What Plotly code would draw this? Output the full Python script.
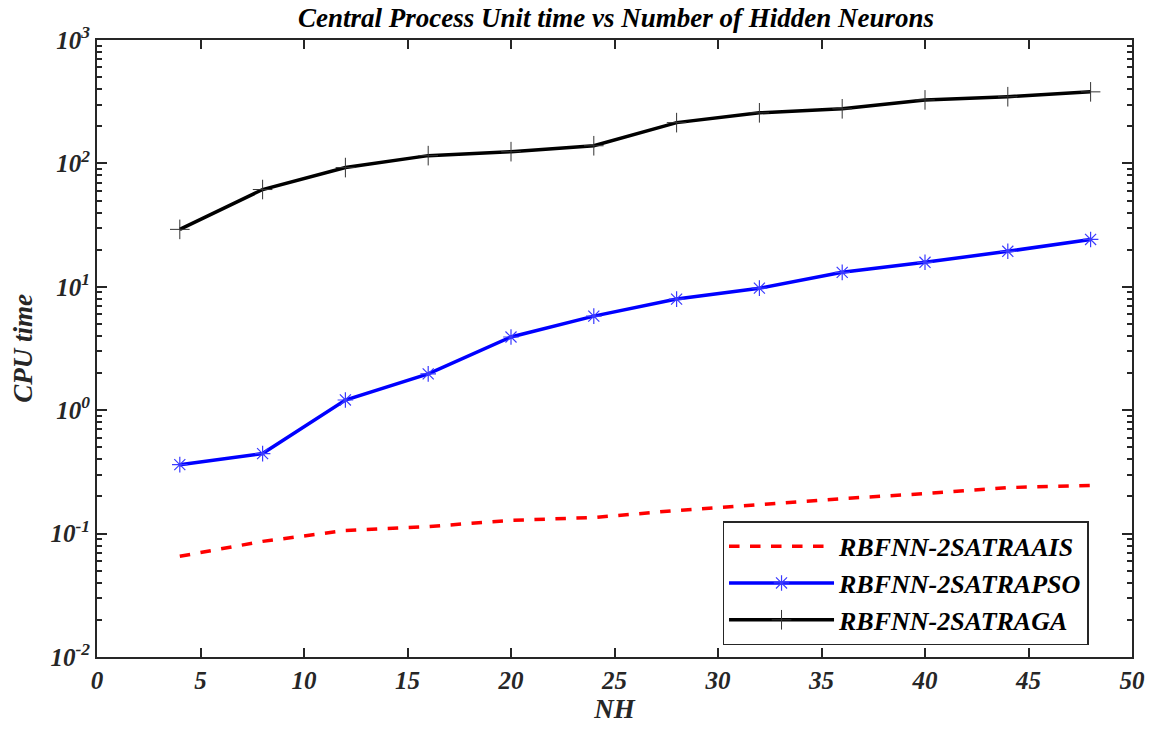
import plotly.graph_objects as go

# Number of hidden neurons
nh = [4, 8, 12, 16, 20, 24, 28, 32, 36, 40, 44, 48]

# CPU time (seconds) for each training method
cpu_aais = [0.0655, 0.0865, 0.106, 0.114, 0.128, 0.135, 0.154, 0.172, 0.192, 0.211, 0.236, 0.245]
cpu_apso = [0.362, 0.445, 1.21, 1.97, 3.92, 5.79, 7.95, 9.75, 13.1, 15.8, 19.4, 24.2]
cpu_aga = [29.2, 61.4, 92.5, 115.6, 124.5, 139, 214, 257, 277, 327, 347, 380]

series_names = ["RBFNN-2SATRAAIS", "RBFNN-2SATRAPSO", "RBFNN-2SATRAGA"]

# Decade ticks on the CPU time axis
y_exponents = [-2, -1, 0, 1, 2, 3]
x_ticks = [0, 5, 10, 15, 20, 25, 30, 35, 40, 45, 50]

font_family = "Liberation Serif"
axis_color = "#262626"

fig = go.Figure()

fig.add_trace(go.Scatter(
    x=nh, y=cpu_aais, name=series_names[0], mode="lines",
    line=dict(color="#ff0000", width=3.5, dash="dash"),
))
fig.add_trace(go.Scatter(
    x=nh, y=cpu_apso, name=series_names[1], mode="lines+markers",
    line=dict(color="#0000ff", width=3.5),
    marker=dict(symbol="asterisk-open", size=13, color="#3a3aff",
                line=dict(color="#3a3aff", width=1.2)),
))
fig.add_trace(go.Scatter(
    x=nh, y=cpu_aga, name=series_names[2], mode="lines+markers",
    line=dict(color="#000000", width=3.5),
    marker=dict(symbol="cross-thin-open", size=14, color="#333333",
                line=dict(color="#333333", width=1)),
))

tick_font = dict(family=font_family, size=25, color=axis_color,
                 weight="bold", style="italic")
title_font = dict(family=font_family, size=27, color=axis_color,
                  weight="bold", style="italic")

fig.update_layout(
    width=1157, height=731,
    margin=dict(l=97, r=22, t=40, b=72),
    paper_bgcolor="white", plot_bgcolor="white",
    showlegend=True,
    title=dict(
        text="Central Process Unit time vs Number of Hidden Neurons",
        x=0.5 * (97 + 1135) / 1157, xanchor="center",
        y=1 - 18 / 731, yanchor="middle",
        font=dict(family=font_family, size=27, color="#000000",
                  weight="bold", style="italic"),
    ),
    legend=dict(
        x=0.958, y=0.1195, xanchor="right", yanchor="middle",
        bgcolor="white", bordercolor=axis_color, borderwidth=1.5,
        font=dict(family=font_family, size=26, color="#000000",
                  weight="bold", style="italic"),
        itemwidth=105, tracegroupgap=0,
    ),
    xaxis=dict(
        range=[0, 50], tickvals=x_ticks,
        ticks="inside", ticklen=9, tickwidth=1.5, tickcolor=axis_color,
        showline=True, linecolor=axis_color, linewidth=2, mirror="allticks",
        showgrid=False, zeroline=False,
        tickfont=tick_font,
        title=dict(text="NH", font=title_font, standoff=6),
    ),
    yaxis=dict(
        type="log", range=[-2, 3],
        tickvals=[10.0 ** e for e in y_exponents],
        ticktext=[f"10<sup>{e}</sup>" for e in y_exponents],
        ticks="inside", ticklen=10, tickwidth=1.5, tickcolor=axis_color,
        minor=dict(ticks="inside", ticklen=5, tickwidth=1.5, tickcolor=axis_color,
                   tickvals=[m * 10.0 ** e for e in range(-2, 3) for m in range(2, 10)]),
        showline=True, linecolor=axis_color, linewidth=2, mirror="allticks",
        showgrid=False, zeroline=False,
        tickfont=tick_font,
        title=dict(text="CPU time", font=title_font, standoff=10),
    ),
)

fig.write_html("out.html")
